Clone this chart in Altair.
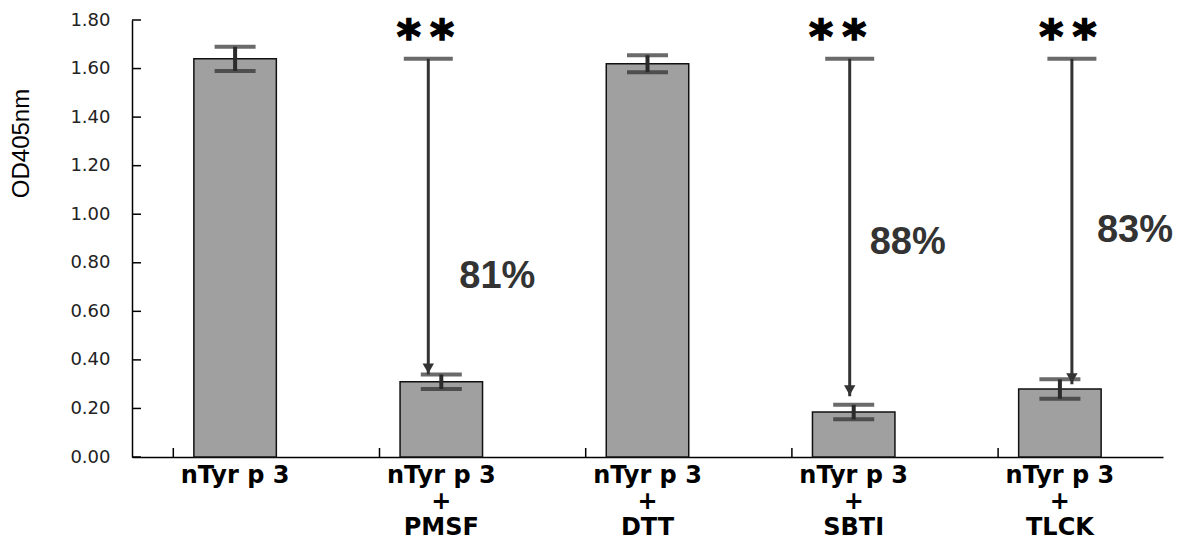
import altair as alt
import pandas as pd

# ---- data ----
categories = ["nTyr p 3", "nTyr p 3|+|PMSF", "nTyr p 3|+|DTT", "nTyr p 3|+|SBTI", "nTyr p 3|+|TLCK"]
means = [1.64, 0.31, 1.62, 0.185, 0.28]
errors = [0.05, 0.03, 0.035, 0.03, 0.04]
y_ticks = [0.0, 0.2, 0.4, 0.6, 0.8, 1.0, 1.2, 1.4, 1.6, 1.8]

arrow_cats = ["nTyr p 3|+|PMSF", "nTyr p 3|+|SBTI", "nTyr p 3|+|TLCK"]
arrow_start = [1.64, 1.64, 1.64]
arrow_end = [0.34, 0.25, 0.30]
pct_labels = ["81%", "88%", "83%"]
pct_y = [0.74, 0.88, 0.93]
star_labels = ["*\u2009*", "*\u2009*", "*\u2009*"]
star_y = [1.665, 1.665, 1.665]

# ---- styles (pixel offsets of annotations) ----
arrow_dx = [-13, -4, 12]
pct_dx = [18, 16, 37]
star_dx = [-16, -16, 8]

bars = pd.DataFrame({
    "cat": categories,
    "mean": means,
    "lo": [m - e for m, e in zip(means, errors)],
    "hi": [m + e for m, e in zip(means, errors)],
})
ticks_df = pd.DataFrame({"v": y_ticks})

yaxis = alt.Axis(
    values=y_ticks, format=".2f", ticks=False, grid=False, domain=True,
    domainColor="black", domainWidth=1.5, labelFont="DejaVu Sans", labelFontSize=18,
    labelColor="#222", labelPadding=22, title="OD405nm", titleFont="Liberation Sans",
    titleFontSize=24, titleFontWeight="normal", titleColor="black", titleAngle=270,
    titleX=-104, titleY=123, titleAlign="center", titleBaseline="alphabetic",
)
yscale = alt.Scale(domain=[0, 1.8], nice=False, zero=True)
xaxis = alt.Axis(
    title=None, labelExpr="split(datum.label, '|')", labelFont="DejaVu Sans",
    labelFontWeight="bold", labelFontSize=24, labelColor="black", ticks=False,
    domain=True, domainColor="black", domainWidth=1.5, labelAngle=0, labelPadding=6,
    labelLineHeight=26,
)
xscale = alt.Scale(paddingInner=0.6, paddingOuter=0.3)


def X():
    return alt.X("cat:N", sort=categories, scale=xscale, axis=xaxis)


def Y(field):
    return alt.Y(field, scale=yscale, axis=yaxis)


base = alt.Chart(bars)

bar_layer = base.mark_bar(color="#a0a0a0", stroke="#111", strokeWidth=1.5).encode(
    x=X(), y=Y("mean:Q")
)
err_rule = base.mark_rule(color="#2b2b2b", strokeWidth=4).encode(
    x=X(), y=Y("lo:Q"), y2="hi:Q"
)
err_lo = base.mark_tick(color="#2b2b2b", thickness=4, size=41).encode(x=X(), y=Y("lo:Q"))
err_hi = base.mark_tick(color="#2b2b2b", thickness=4, size=41).encode(x=X(), y=Y("hi:Q"))

ytick_layer = alt.Chart(ticks_df).mark_rule(color="black", strokeWidth=1.5).encode(
    y=Y("v:Q"), x=alt.value(0), x2=alt.value(9)
)
xtick_start = base.mark_rule(color="black", strokeWidth=1.5, xOffset=-61.8).encode(
    x=X(), y=Y("zero:Q"), y2=alt.value(428)
).transform_calculate(zero="0")
xtick_end = base.transform_filter(alt.datum.cat == categories[-1]).transform_calculate(
    zero="0"
).mark_rule(color="black", strokeWidth=1.5, xOffset=61.8 + 82.4).encode(
    x=X(), y=Y("zero:Q"), y2=alt.value(428)
)

layers = [bar_layer, err_rule, err_lo, err_hi, ytick_layer, xtick_start, xtick_end]

for i in range(len(arrow_cats)):
    d = pd.DataFrame({
        "cat": [arrow_cats[i]], "start": [arrow_start[i]], "end": [arrow_end[i]],
        "pct": [pct_labels[i]], "pct_y": [pct_y[i]], "star": [star_labels[i]],
        "star_y": [star_y[i]],
    })
    c = alt.Chart(d)
    layers.append(c.mark_rule(color="#333", strokeWidth=3, xOffset=arrow_dx[i]).encode(
        x=X(), y=Y("start:Q"), y2="end:Q"))
    layers.append(c.mark_tick(color="#2b2b2b", thickness=4, size=49, xOffset=arrow_dx[i]).encode(
        x=X(), y=Y("start:Q")))
    layers.append(c.mark_point(shape="triangle-down", filled=True, color="#333", size=130,
                               opacity=1, xOffset=arrow_dx[i], yOffset=-6).encode(
        x=X(), y=Y("end:Q")))
    layers.append(c.mark_text(font="Liberation Sans", fontSize=38, fontWeight="bold",
                              color="#333", align="left", baseline="middle",
                              xOffset=pct_dx[i]).encode(
        x=X(), y=Y("pct_y:Q"), text="pct:N"))
    layers.append(c.mark_text(font="DejaVu Sans", fontSize=46, fontWeight="bold",
                              color="black", stroke="black", strokeWidth=1.5,
                              align="center", baseline="alphabetic",
                              xOffset=star_dx[i]).encode(
        x=X(), y=Y("star_y:Q"), text="star:N"))

chart = alt.layer(*layers).properties(
    width=1031, height=437,
    padding={"left": 124, "top": 12, "right": 10, "bottom": 83},
    autosize=alt.AutoSizeParams(type="none"),
    background="white",
).configure_view(stroke=None)

chart.save("out.html", embed_options={"renderer": "svg", "actions": False})
